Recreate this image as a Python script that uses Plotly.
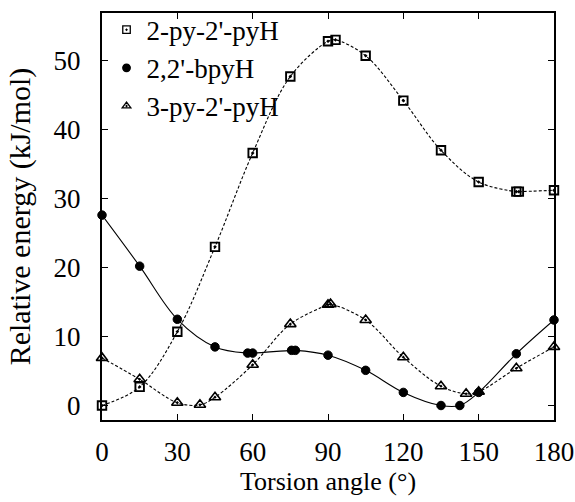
import plotly.graph_objects as go

# Data
pypy_x = [0, 15, 30, 45, 60, 75, 90, 93, 105, 120, 135, 150, 165, 166, 180]
pypy_y = [0.0, 2.7, 10.7, 23.0, 36.6, 47.7, 52.8, 53.0, 50.7, 44.2, 37.0, 32.4, 31.0, 31.0, 31.2]

bpy_x = [0, 15, 30, 45, 58, 60, 75.5, 77, 90, 105, 120, 135, 142.5, 150, 165, 180]
bpy_y = [27.6, 20.2, 12.5, 8.5, 7.6, 7.6, 8.0, 8.0, 7.3, 5.1, 1.9, 0.0, 0.0, 1.9, 7.5, 12.4]

py3_x = [0, 15, 30, 39, 45, 60, 75, 90, 91, 105, 120, 135, 145, 150, 165, 180]
py3_y = [6.9, 3.8, 0.4, 0.1, 1.2, 5.9, 11.8, 14.6, 14.7, 12.4, 7.0, 2.8, 1.7, 2.0, 5.4, 8.5]

names = ["2-py-2'-pyH", "2,2'-bpyH", "3-py-2'-pyH"]
x_ticks = [0, 30, 60, 90, 120, 150, 180]
y_ticks = [0, 10, 20, 30, 40, 50]

FONT = "Liberation Serif"

fig = go.Figure()

series = [
    (pypy_x, pypy_y, "square-open-dot", 8.5, 1.9, "dash"),
    (bpy_x, bpy_y, "circle", 8.5, 1.0, "solid"),
    (py3_x, py3_y, "triangle-up-open-dot", 10, 1.6, "dash"),
]

for (xs, ys, sym, ms, lw, dash), name in zip(series, names):
    fig.add_trace(go.Scatter(
        x=xs, y=ys, mode="lines+markers", name=name, showlegend=False,
        line=dict(color="black", width=1.1, shape="spline", smoothing=1.0,
                  dash=("3px,2px" if dash == "dash" else "solid")),
        marker=dict(symbol=sym, size=ms, color="black",
                    line=dict(color="black", width=lw)),
        cliponaxis=False,
    ))
    fig.add_trace(go.Scatter(
        x=[None], y=[None], mode="markers", name=name, showlegend=True,
        marker=dict(symbol=sym, size=7.5, color="black",
                    line=dict(color="black", width=1.3)),
    ))

fig.update_layout(
    width=575, height=502,
    margin=dict(l=102, r=21, t=13, b=82, autoexpand=False),
    paper_bgcolor="white", plot_bgcolor="white",
    font=dict(family=FONT, size=27, color="black"),
    showlegend=True,
    legend=dict(x=0.01, y=1.018, xanchor="left", yanchor="top",
                bgcolor="rgba(0,0,0,0)", font=dict(family=FONT, size=27),
                itemwidth=30, tracegroupgap=0),
    xaxis=dict(range=[0, 180], tickvals=x_ticks, showgrid=False, zeroline=False,
               showline=True, linecolor="black", linewidth=2, mirror="ticks",
               ticks="inside", ticklen=6, tickwidth=1.2, tickcolor="black",
               tickfont=dict(family=FONT, size=27), ticklabelstandoff=7,
               automargin=False,
               title=dict(text="Torsion angle (°)", font=dict(family=FONT, size=26),
                          standoff=3)),
    yaxis=dict(range=[-2.1, 56.9], tickvals=y_ticks, showgrid=False, zeroline=False,
               showline=True, linecolor="black", linewidth=2, mirror="ticks",
               ticks="inside", ticklen=6, tickwidth=1.2, tickcolor="black",
               tickfont=dict(family=FONT, size=27), ticklabelstandoff=14,
               automargin=False,
               title=dict(text="Relative energy (kJ/mol)", font=dict(family=FONT, size=30),
                          standoff=14)),
)

fig.write_html("out.html")
